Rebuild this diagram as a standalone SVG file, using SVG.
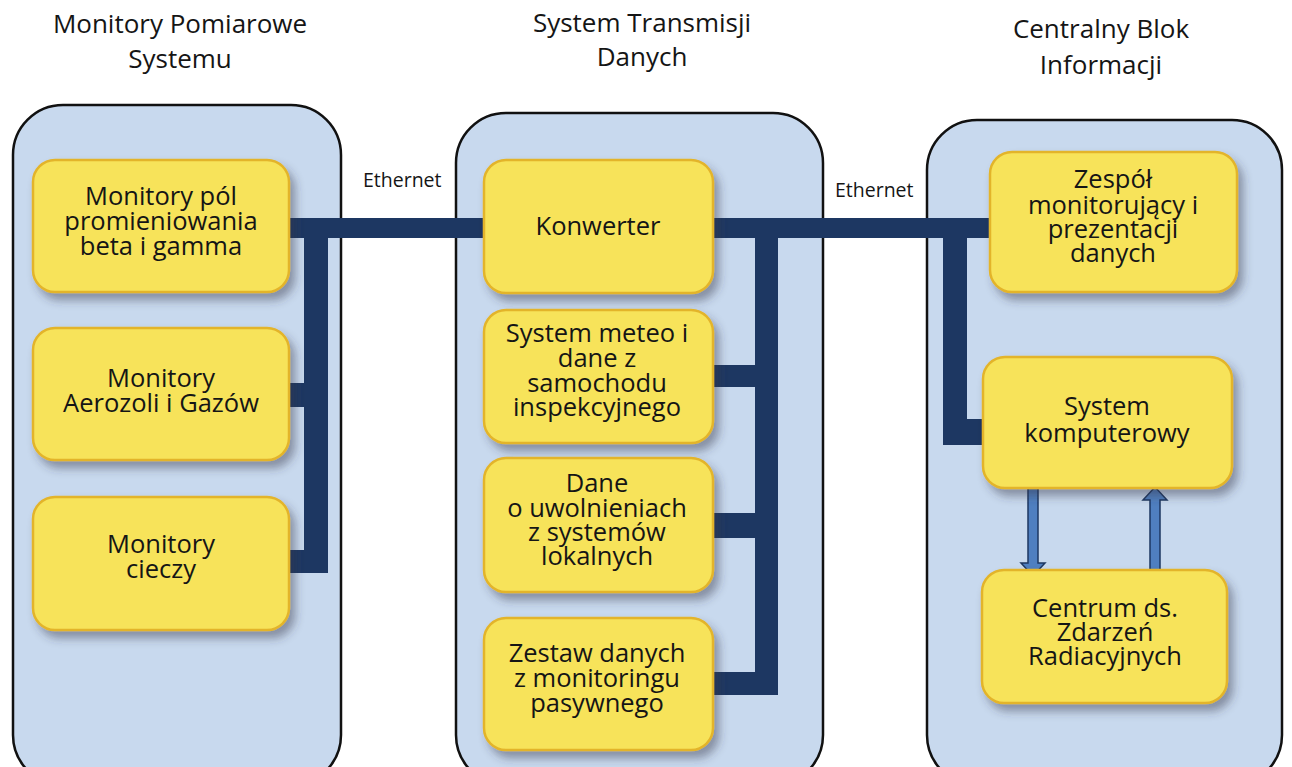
<svg xmlns="http://www.w3.org/2000/svg" width="1292" height="767" viewBox="0 0 1292 767">
<defs>
<style>
.cont{fill:#c8d9ee;stroke:#111;stroke-width:2.5}
.box{fill:#f7e35a;stroke:#e3b42a;stroke-width:2.5;filter:url(#sh)}
.t{font-family:"Open Sans","Liberation Sans",sans-serif;font-size:25.5px;fill:#151515;text-anchor:middle}
.h{font-family:"Open Sans","Liberation Sans",sans-serif;font-size:26px;fill:#151515;text-anchor:middle}
.e{font-family:"Open Sans","Liberation Sans",sans-serif;font-size:19.5px;fill:#151515}
.bus{fill:#1d3762}
.arr{fill:#4f7fc0;stroke:#1d3762;stroke-width:1.5}
</style>
<filter id="sh" x="-10%" y="-10%" width="130%" height="140%">
<feDropShadow dx="5" dy="7" stdDeviation="5" flood-color="#334" flood-opacity="0.45"/>
</filter>
</defs>
<rect width="1292" height="767" fill="#fff"/>

<g id="headers">
<text class="h" x="180" y="33">Monitory Pomiarowe</text>
<text class="h" x="180" y="68">Systemu</text>
<text class="h" x="642" y="32">System Transmisji</text>
<text class="h" x="642" y="66">Danych</text>
<text class="h" x="1101" y="38">Centralny Blok</text>
<text class="h" x="1101" y="74">Informacji</text>
</g>

<g id="containers">
<rect id="c1" class="cont" x="13" y="105" width="328" height="680" rx="50"/>
<rect id="c2" class="cont" x="456" y="113" width="367" height="672" rx="50"/>
<rect id="c3" class="cont" x="927" y="120" width="355" height="665" rx="50"/>
</g>

<g id="connectors">
<rect class="bus" x="289" y="218" width="196" height="20"/>
<rect class="bus" x="304" y="218" width="24" height="355"/>
<rect class="bus" x="289" y="383" width="16" height="24"/>
<rect class="bus" x="289" y="550" width="39" height="23"/>
<rect class="bus" x="713" y="218" width="278" height="20"/>
<rect class="bus" x="755" y="218" width="23" height="477"/>
<rect class="bus" x="713" y="365" width="43" height="22"/>
<rect class="bus" x="713" y="513" width="43" height="25"/>
<rect class="bus" x="713" y="672" width="65" height="23"/>
<rect class="bus" x="943" y="218" width="24" height="227"/>
<rect class="bus" x="943" y="419" width="42" height="26"/>
<path class="arr" d="M1028,488 H1038 V563 H1045 L1033,576 L1021,563 H1028 Z"/>
<path class="arr" d="M1150,575 H1160 V500 H1167 L1155,487 L1143,500 H1150 Z"/>
</g>

<g id="labels">
<text class="e" x="363" y="187">Ethernet</text>
<text class="e" x="835" y="197">Ethernet</text>
</g>

<g id="n1"><rect class="box" x="33" y="160" width="256" height="132" rx="22"/>
<text class="t" x="161" y="205">Monitory pól</text><text class="t" x="161" y="230">promieniowania</text><text class="t" x="161" y="255">beta i gamma</text></g>
<g id="n2"><rect class="box" x="33" y="328" width="256" height="132" rx="22"/>
<text class="t" x="161" y="387">Monitory</text><text class="t" x="161" y="412">Aerozoli i Gazów</text></g>
<g id="n3"><rect class="box" x="33" y="497" width="256" height="133" rx="22"/>
<text class="t" x="161" y="553">Monitory</text><text class="t" x="161" y="578">cieczy</text></g>

<g id="n4"><rect class="box" x="484" y="160" width="229" height="133" rx="22"/>
<text class="t" x="598" y="235">Konwerter</text></g>
<g id="n5"><rect class="box" x="484" y="310" width="229" height="133" rx="22"/>
<text class="t" x="597" y="342">System meteo i</text><text class="t" x="597" y="367">dane z</text><text class="t" x="597" y="392">samochodu</text><text class="t" x="597" y="416">inspekcyjnego</text></g>
<g id="n6"><rect class="box" x="484" y="458" width="229" height="134" rx="22"/>
<text class="t" x="597" y="492">Dane</text><text class="t" x="597" y="517">o uwolnieniach</text><text class="t" x="597" y="541">z systemów</text><text class="t" x="597" y="565">lokalnych</text></g>
<g id="n7"><rect class="box" x="484" y="618" width="229" height="132" rx="22"/>
<text class="t" x="597" y="662">Zestaw danych</text><text class="t" x="597" y="687">z monitoringu</text><text class="t" x="597" y="712">pasywnego</text></g>

<g id="n8"><rect class="box" x="990" y="152" width="247" height="140" rx="22"/>
<text class="t" x="1113" y="188">Zespół</text><text class="t" x="1113" y="214">monitorujący i</text><text class="t" x="1113" y="238">prezentacji</text><text class="t" x="1113" y="262">danych</text></g>
<g id="n9"><rect class="box" x="983" y="357" width="249" height="131" rx="22"/>
<text class="t" x="1107" y="415">System</text><text class="t" x="1107" y="442">komputerowy</text></g>
<g id="n10"><rect class="box" x="982" y="570" width="245" height="133" rx="22"/>
<text class="t" x="1105" y="617">Centrum ds.</text><text class="t" x="1105" y="641">Zdarzeń</text><text class="t" x="1105" y="665">Radiacyjnych</text></g>
</svg>
